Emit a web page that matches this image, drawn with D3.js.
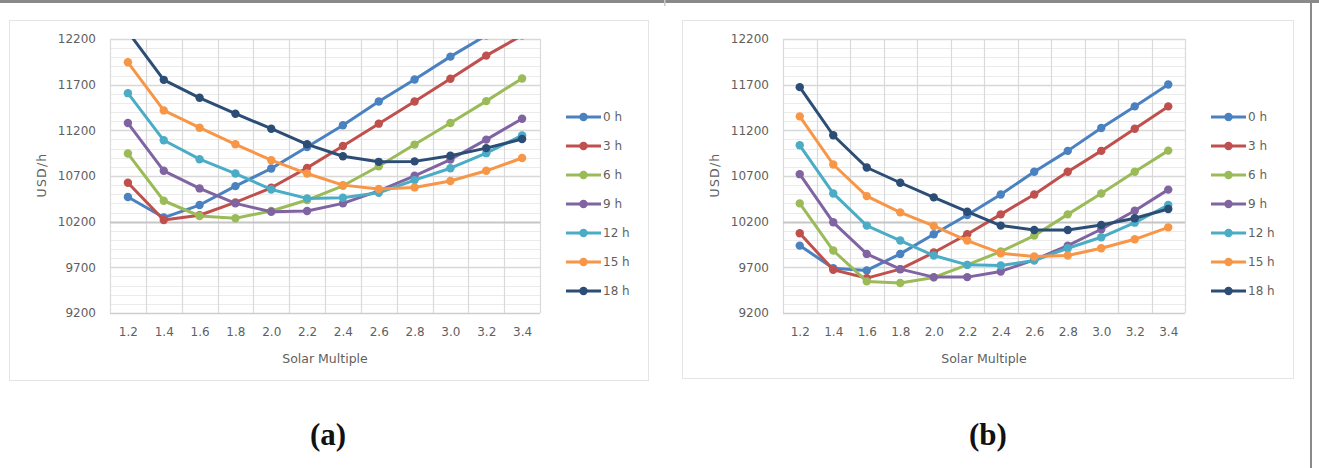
<!DOCTYPE html>
<html><head><meta charset="utf-8">
<script src="https://cdn.jsdelivr.net/npm/d3@7"></script>
<style>html,body{margin:0;padding:0;background:#fff;}svg{display:block;}</style>
</head><body>
<svg id="chart" width="1319" height="468"></svg>
<script>
const categories = ["1.2","1.4","1.6","1.8","2.0","2.2","2.4","2.6","2.8","3.0","3.2","3.4"];
const seriesNames = ["0 h","3 h","6 h","9 h","12 h","15 h","18 h"];
const seriesColors = ["#4A81C0","#C0504D","#9BBB59","#8064A2","#4BACC6","#F79646","#2C4D75"];
const yTicks = [9200,9700,10200,10700,11200,11700,12200];
const panelLabels = ["(a)","(b)"];

// Panel (a)
const a0h  = [10470,10245,10382,10589,10782,11018,11255,11516,11756,12007,12240,12480];
const a3h  = [10626,10218,10270,10411,10571,10789,11029,11273,11516,11764,12018,12240];
const a6h  = [10946,10429,10262,10237,10317,10437,10593,10807,11044,11280,11520,11768];
const a9h  = [11280,10757,10564,10400,10309,10317,10400,10538,10702,10880,11098,11327];
const a12h = [11607,11091,10884,10727,10553,10455,10462,10517,10655,10785,10950,11145];
const a15h = [11945,11418,11229,11047,10873,10727,10600,10557,10575,10645,10757,10897];
const a18h = [12280,11753,11556,11382,11218,11047,10916,10855,10860,10922,11005,11105];

// Panel (b)
const b0h  = [9938,9691,9666,9847,10062,10273,10498,10746,10975,11226,11462,11702];
const b3h  = [10073,9673,9582,9680,9862,10062,10280,10498,10746,10975,11218,11462];
const b6h  = [10400,9884,9546,9528,9589,9727,9873,10047,10280,10509,10746,10978];
const b9h  = [10720,10193,9847,9680,9593,9593,9655,9782,9938,10117,10320,10551];
const b12h = [11036,10509,10157,9993,9829,9727,9720,9775,9909,10029,10189,10383];
const b15h = [11353,10826,10480,10302,10153,9993,9855,9818,9829,9909,10007,10138];
const b18h = [11673,11146,10793,10626,10466,10309,10157,10109,10109,10164,10237,10339];

const panelA = [a0h,a3h,a6h,a9h,a12h,a15h,a18h];
const panelB = [b0h,b3h,b6h,b9h,b12h,b15h,b18h];

const svg = d3.select("#chart");
const FONT = "'DejaVu Sans', sans-serif";
const TXT = "#5f5f5f";
const FS = 12;

// outer figure borders
svg.append("rect").attr("x",0).attr("y",0).attr("width",1319).attr("height",3).attr("fill","#8a8a8a");
svg.append("rect").attr("x",664).attr("y",0).attr("width",1.5).attr("height",6).attr("fill","#c8c8c8");
svg.append("rect").attr("x",1310).attr("y",0).attr("width",2).attr("height",468).attr("fill","#8a8a8a");

const panels = [
  {data: panelA, label: panelLabels[0], frame:{x:9,y:20,w:639,h:360}, plot:{l:110,r:540,t:39,b:313},
   yLabelX:96, yTitleX:46, legX:566, legTextX:603, capX:328, id:"a"},
  {data: panelB, label: panelLabels[1], frame:{x:682,y:20,w:611,h:358}, plot:{l:783,r:1185,t:39,b:313},
   yLabelX:769, yTitleX:719, legX:1211, legTextX:1248, capX:988, id:"b"}
];

panels.forEach(p => {
  const g = svg.append("g");
  g.append("rect").attr("x",p.frame.x+0.5).attr("y",p.frame.y+0.5).attr("width",p.frame.w).attr("height",p.frame.h)
    .attr("fill","#fff").attr("stroke","#e4e4e4").attr("stroke-width",1);

  const x = d3.scalePoint().domain(categories).range([p.plot.l,p.plot.r]).padding(0.5);
  const band = d3.scaleBand().domain(categories).range([p.plot.l,p.plot.r]).padding(0);
  const y = d3.scaleLinear().domain([9200,12200]).range([p.plot.b,p.plot.t]);

  // minor horizontal gridlines
  const minor = d3.range(9300,12200,100).filter(v => (v-9200)%500!==0);
  g.append("g").selectAll("line").data(minor).join("line")
    .attr("x1",p.plot.l).attr("x2",p.plot.r)
    .attr("y1",d=>Math.round(y(d))+0.5).attr("y2",d=>Math.round(y(d))+0.5)
    .attr("stroke","#ebebeb").attr("stroke-width",1);
  // vertical gridlines
  const vb = categories.map(c=>band(c)).concat([p.plot.r]);
  g.append("g").selectAll("line").data(vb).join("line")
    .attr("x1",d=>Math.round(d)+0.5).attr("x2",d=>Math.round(d)+0.5)
    .attr("y1",p.plot.t).attr("y2",p.plot.b)
    .attr("stroke","#dadada").attr("stroke-width",1.2);
  // major horizontal gridlines
  g.append("g").selectAll("line").data(yTicks).join("line")
    .attr("x1",p.plot.l).attr("x2",p.plot.r)
    .attr("y1",d=>Math.round(y(d))+0.5).attr("y2",d=>Math.round(y(d))+0.5)
    .attr("stroke",d=> d===10200 ? "#c6c6c6" : (d===9200 ? "#cdcdcd" : "#d8d8d8"))
    .attr("stroke-width",d=> d===10200 ? 2 : 1.3);

  // y axis labels
  const yAxis = d3.axisLeft(y).tickValues(yTicks).tickSize(0).tickPadding(0).tickFormat(d3.format("d"));
  const ya = g.append("g").attr("transform",`translate(${p.yLabelX},0)`).call(yAxis);
  ya.select(".domain").remove();
  ya.selectAll("text").attr("fill",TXT).attr("font-family",FONT).attr("font-size",FS);

  // x axis labels
  const xAxis = d3.axisBottom(x).tickSize(0).tickPadding(0);
  const xa = g.append("g").attr("transform",`translate(0,${p.plot.b+14})`).call(xAxis);
  xa.select(".domain").remove();
  xa.selectAll("text").attr("fill",TXT).attr("font-family",FONT).attr("font-size",FS);

  // titles
  g.append("text").attr("x",(p.plot.l+p.plot.r)/2).attr("y",363).attr("text-anchor","middle")
    .attr("fill",TXT).attr("font-family",FONT).attr("font-size",12.5).text("Solar Multiple");
  g.append("text").attr("transform",`translate(${p.yTitleX},175) rotate(-90)`).attr("text-anchor","middle")
    .attr("fill",TXT).attr("font-family",FONT).attr("font-size",12.5).attr("letter-spacing",1.2).text("USD/h");

  // clip
  const cid = "clip-"+p.id;
  svg.append("defs").append("clipPath").attr("id",cid).append("rect")
    .attr("x",p.plot.l-6).attr("y",p.plot.t).attr("width",p.plot.r-p.plot.l+12).attr("height",p.plot.b-p.plot.t+6);

  const line = d3.line().x((d,i)=>x(categories[i])).y(d=>y(d));
  const sg = g.append("g").attr("clip-path",`url(#${cid})`);
  p.data.forEach((vals,si) => {
    const s = sg.append("g");
    s.append("path").attr("d",line(vals)).attr("fill","none").attr("stroke",seriesColors[si])
      .attr("stroke-width",3).attr("stroke-linejoin","round");
    s.selectAll("circle").data(vals).join("circle")
      .attr("cx",(d,i)=>x(categories[i])).attr("cy",d=>y(d)).attr("r",4.2)
      .attr("fill",seriesColors[si]);
  });

  // legend
  const lg = g.append("g");
  seriesNames.forEach((n,i) => {
    const yy = 117 + i*29;
    lg.append("line").attr("x1",p.legX).attr("x2",p.legX+35).attr("y1",yy).attr("y2",yy)
      .attr("stroke",seriesColors[i]).attr("stroke-width",3);
    lg.append("circle").attr("cx",p.legX+17.5).attr("cy",yy).attr("r",4.2).attr("fill",seriesColors[i]);
    lg.append("text").attr("x",p.legTextX).attr("y",yy).attr("dy","0.36em")
      .attr("fill",TXT).attr("font-family",FONT).attr("font-size",FS).text(n);
  });

  // caption
  svg.append("text").attr("x",p.capX).attr("y",445).attr("text-anchor","middle")
    .attr("font-family","'Liberation Serif', 'DejaVu Serif', serif").attr("font-weight","bold")
    .attr("font-size",31).attr("fill","#111").text(p.label);
});
</script>
</body></html>
